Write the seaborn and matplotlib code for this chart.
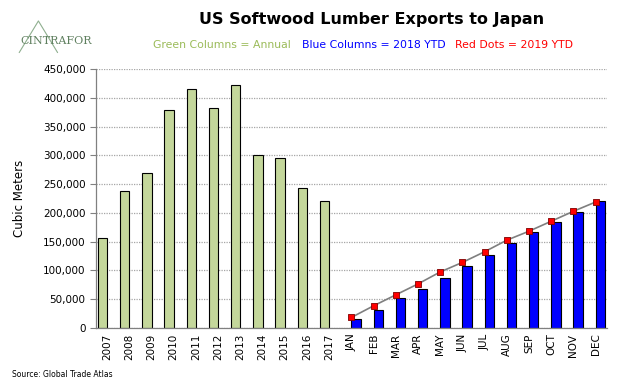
import numpy as np
import pandas as pd
import matplotlib
matplotlib.use("Agg")
import matplotlib.pyplot as plt
from matplotlib.lines import Line2D
from matplotlib.ticker import FuncFormatter, FixedLocator
import seaborn as sns

# Annual exports (green columns)
years = ["2007", "2008", "2009", "2010", "2011", "2012", "2013",
         "2014", "2015", "2016", "2017"]
annual = [157000, 238000, 269000, 378000, 415000, 383000, 423000,
          301000, 296000, 243000, 221000]

# Monthly cumulative (blue columns = 2018 YTD, red dots = 2019 YTD)
months = ["JAN", "FEB", "MAR", "APR", "MAY", "JUN",
          "JUL", "AUG", "SEP", "OCT", "NOV", "DEC"]
ytd_2018 = [15600, 31700, 52400, 68500, 87600, 107000,
            126700, 147500, 166500, 184300, 202000, 221000]
ytd_2019 = [18400, 38600, 57600, 76600, 97400, 114000,
            132500, 152600, 168200, 185500, 202800, 218900]

categories = years + months

df = pd.concat([
    pd.DataFrame({"category": years, "value": annual, "series": "Annual"}),
    pd.DataFrame({"category": months, "value": ytd_2018, "series": "2018 YTD"}),
])
dots = pd.DataFrame({"pos": [categories.index(m) for m in months], "value": ytd_2019})

sns.set_style("white")
plt.rcParams["font.family"] = ["DejaVu Sans"]
plt.rcParams["text.color"] = "black"
plt.rcParams["axes.labelcolor"] = "black"
plt.rcParams["xtick.color"] = "black"
plt.rcParams["ytick.color"] = "black"

fig = plt.figure(figsize=(6.4, 3.81), dpi=100)
ax = fig.add_axes([0.150, 0.139, 0.798, 0.680])

sns.barplot(data=df, x="category", y="value", hue="series", order=categories,
            hue_order=["Annual", "2018 YTD"],
            palette={"Annual": "#C4D79B", "2018 YTD": "#0000FF"},
            width=0.84, dodge=True, saturation=1, edgecolor="black",
            linewidth=0.8, legend=False, errorbar=None, ax=ax)

sns.lineplot(data=dots, x="pos", y="value", color="#7F7F7F", linewidth=1.2,
             ax=ax, zorder=4)
sns.scatterplot(data=dots, x="pos", y="value", marker="s", color="#FF0000",
                edgecolor="#7F0000", linewidth=0.6, s=22, ax=ax, zorder=5)

ax.set_xlim(-0.5, len(categories) - 0.5)
ax.set_ylim(0, 450000)
ax.set_yticks(np.arange(0, 450001, 50000))
ax.yaxis.set_major_formatter(FuncFormatter(lambda v, p: f"{int(v):,}"))
ax.yaxis.grid(True, linestyle=(0, (1, 1)), color="#A6A6A6", linewidth=0.9)
ax.set_axisbelow(True)

ax.set_xticks(range(len(categories)))
ax.set_xticklabels(categories, rotation=90, fontsize=7.5)
ax.xaxis.set_minor_locator(FixedLocator(np.arange(-0.5, len(categories), 1)))
ax.tick_params(axis="x", which="major", length=0, pad=4)
ax.tick_params(axis="x", which="minor", length=4, color="#808080", direction="out")
ax.tick_params(axis="y", labelsize=7.5, length=4, color="#808080", direction="out",
               left=True)

ax.set_xlabel("")
ax.set_ylabel("Cubic Meters", fontsize=8.5, labelpad=12)

for s in ["top", "right"]:
    ax.spines[s].set_visible(False)
for s in ["left", "bottom"]:
    ax.spines[s].set_color("#808080")
    ax.spines[s].set_linewidth(0.9)

# titles
fig.text(0.58, 0.948, "US Softwood Lumber Exports to Japan", ha="center", va="center",
         fontsize=11.5, fontweight="bold")
fig.text(0.239, 0.882, "Green Columns = Annual", ha="left", va="center",
         fontsize=7.8, color="#9BBB59")
fig.text(0.472, 0.882, "Blue Columns = 2018 YTD", ha="left", va="center",
         fontsize=7.8, color="#0000FF")
fig.text(0.711, 0.882, "Red Dots = 2019 YTD", ha="left", va="center",
         fontsize=7.8, color="#FF0000")

# logo
fig.text(0.032, 0.893, "CINTRAFOR", ha="left", va="center", fontsize=8,
         family="DejaVu Serif", color="#5E7F5E")
fig.add_artist(Line2D([0.030, 0.060, 0.090], [0.862, 0.945, 0.862],
                      transform=fig.transFigure, color="#8FAF8F", linewidth=0.8))

fig.text(0.019, 0.016, "Source: Global Trade Atlas", ha="left", va="center",
         fontsize=5.5)

fig.savefig("out.png", dpi=100)
